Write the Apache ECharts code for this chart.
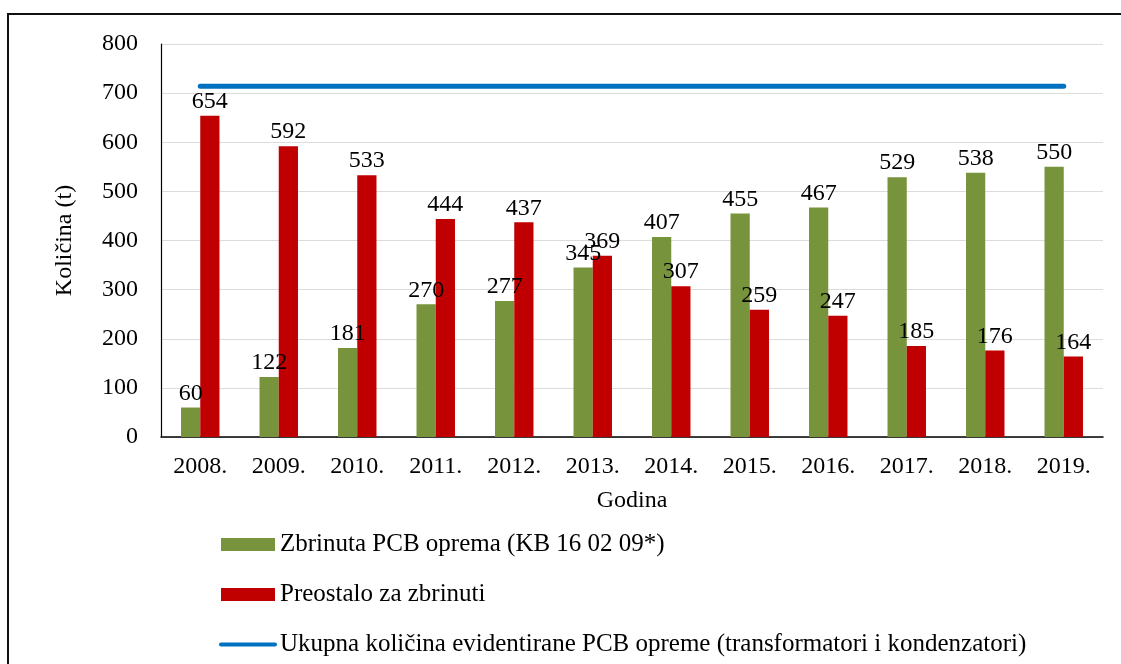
<!DOCTYPE html>
<html>
<head>
<meta charset="utf-8">
<script src="https://cdn.jsdelivr.net/npm/echarts@6/dist/echarts.min.js"></script>
<style>
  html, body { margin: 0; padding: 0; background: #fff; overflow: hidden; }
  #frame { position: absolute; left: 7px; top: 13px; width: 1200px; height: 700px; border: 2px solid #111; }
  #chart { position: absolute; left: 0; top: 0; width: 1121px; height: 664px; }
</style>
</head>
<body>
<div id="frame"></div>
<div id="chart"></div>
<script>
var years = ['2008.', '2009.', '2010.', '2011.', '2012.', '2013.', '2014.', '2015.', '2016.', '2017.', '2018.', '2019.']
var disposed = [60, 122, 181, 270, 277, 345, 407, 455, 467, 529, 538, 550]
var remaining = [654, 592, 533, 444, 437, 369, 307, 259, 247, 185, 176, 164]
var total = [714, 714, 714, 714, 714, 714, 714, 714, 714, 714, 714, 714]
var names = [
  'Zbrinuta PCB oprema (KB 16 02 09*)',
  'Preostalo za zbrinuti',
  'Ukupna količina evidentirane PCB opreme (transformatori i kondenzatori)'
]

var font = '"Liberation Serif", "Times New Roman", serif'

function RenderChart() {
  var chart = echarts.init(document.getElementById('chart'))
  var option = {
    animation: false,
    textStyle: { fontFamily: font, color: '#000' },
    grid: { left: 161, top: 44, right: 18, bottom: 227 },
    legend: {
      orient: 'vertical',
      left: 219,
      top: 532,
      padding: 0,
      itemGap: 25,
      itemWidth: 54,
      itemHeight: 13,
      textStyle: { fontFamily: font, fontSize: 25, color: '#000' },
      data: [
        { name: names[0], icon: 'rect' },
        { name: names[1], icon: 'rect' },
        { name: names[2], itemStyle: { opacity: 0 }, lineStyle: { width: 4, cap: 'round' } }
      ]
    },
    xAxis: {
      type: 'category',
      data: years,
      name: 'Godina',
      nameLocation: 'middle',
      nameGap: 52,
      nameTextStyle: { fontFamily: font, fontSize: 24, color: '#000' },
      axisLine: { lineStyle: { color: '#000', width: 1.5 } },
      axisTick: { show: false },
      axisLabel: { fontFamily: font, fontSize: 24, color: '#000', margin: 18 }
    },
    yAxis: {
      type: 'value',
      min: 0,
      max: 800,
      interval: 100,
      name: 'Količina (t)',
      nameLocation: 'middle',
      nameGap: 84,
      nameTextStyle: { fontFamily: font, fontSize: 24, color: '#000' },
      axisLine: { show: true, lineStyle: { color: '#000', width: 1.2 } },
      axisTick: { show: false },
      axisLabel: { fontFamily: font, fontSize: 24, color: '#000', margin: 23 },
      splitLine: { lineStyle: { color: '#dcdcdc', width: 1 } }
    },
    series: [
      {
        name: names[0],
        type: 'bar',
        data: disposed,
        barGap: '0%',
        barCategoryGap: '51%',
        itemStyle: { color: '#77933C' },
        label: { show: true, position: 'top', distance: 2, fontFamily: font, fontSize: 24, color: '#000' }
      },
      {
        name: names[1],
        type: 'bar',
        data: remaining,
        itemStyle: { color: '#C00000' },
        label: { show: true, position: 'top', distance: 2, fontFamily: font, fontSize: 24, color: '#000' }
      },
      {
        name: names[2],
        type: 'line',
        data: total,
        symbol: 'none',
        lineStyle: { color: '#0070C0', width: 5, cap: 'round' },
        itemStyle: { color: '#0070C0' },
        markLine: {
          symbol: 'none',
          silent: true,
          lineStyle: { opacity: 0 },
          label: { show: true, position: 'middle', distance: 6, formatter: '714', fontFamily: font, fontSize: 24, color: '#000' },
          data: [[{ coord: [0, total[0]] }, { coord: [years.length - 1, total[total.length - 1]] }]]
        }
      }
    ]
  }
  chart.setOption(option)
}

window.onload = RenderChart
</script>
</body>
</html>
